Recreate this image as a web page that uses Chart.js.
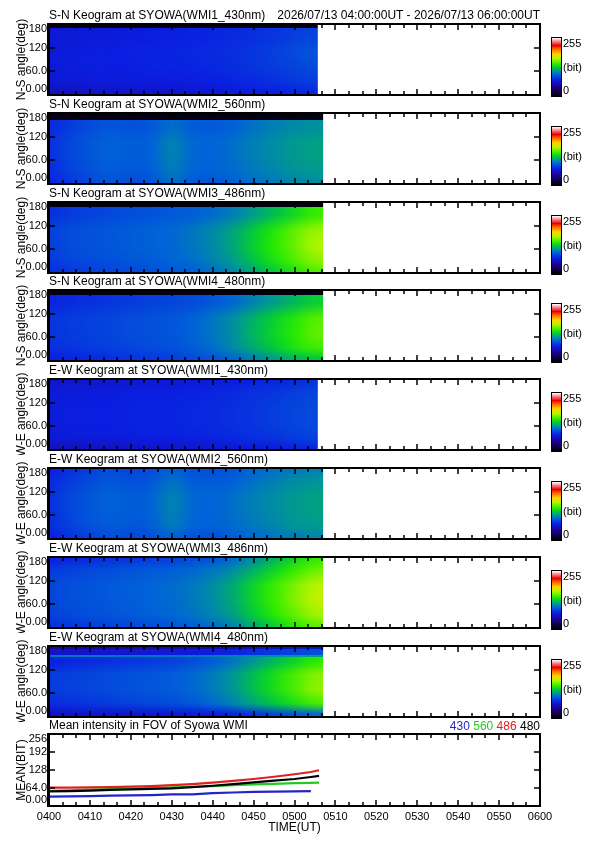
<!DOCTYPE html>
<html>
<head>
<meta charset="utf-8">
<script src="https://cdn.jsdelivr.net/npm/chart.js@4.4.0/dist/chart.umd.min.js"></script>
<style>
body{margin:0;background:#fff;width:595px;height:842px;position:relative;overflow:hidden;font-family:"Liberation Sans",Arial,sans-serif;color:#000;}
canvas{position:absolute;left:0;}
.ttl{position:absolute;left:49px;font-size:12px;line-height:14px;white-space:nowrap;}
.rt{left:auto;right:55px;}
</style>
</head>
<body>
<script>
// minutes after 04:00 UT
var keoTimes = [0,5,10,15,20,25,30,35,40,45,50,55,60,65];
var keoEnd = [65.7,67,67,67,65.7,67,67,67];
var keoYTicks = [0,60,120,180];

var titles = [
  'S-N Keogram at SYOWA(WMI1_430nm)','S-N Keogram at SYOWA(WMI2_560nm)',
  'S-N Keogram at SYOWA(WMI3_486nm)','S-N Keogram at SYOWA(WMI4_480nm)',
  'E-W Keogram at SYOWA(WMI1_430nm)','E-W Keogram at SYOWA(WMI2_560nm)',
  'E-W Keogram at SYOWA(WMI3_486nm)','E-W Keogram at SYOWA(WMI4_480nm)'
];
var axisNames = ['N-S angle(deg)','N-S angle(deg)','N-S angle(deg)','N-S angle(deg)',
  'W-E angle(deg)','W-E angle(deg)','W-E angle(deg)','W-E angle(deg)'];

// angle band edges (top -> bottom) and intensity (bit) per band per time column
var sn430Edges = [180,170,130,90,50,15,0];
var sn430 = [
  [8,8,8,8,8,8,8,8,8,8,8,8,8,8],
  [64,65,66,67,68,69,70,71,72,74,76,78,81,84],
  [67,68,69,70,71,72,72,73,74,76,79,82,86,89],
  [67,68,69,70,70,71,71,72,73,75,77,80,83,86],
  [64,65,66,67,67,68,68,69,70,72,74,76,79,81],
  [58,59,60,61,61,62,62,63,64,66,68,70,72,74]
];
var sn560Edges = [180,163,130,90,50,15,0];
var sn560 = [
  [5,5,5,5,5,5,5,5,5,5,5,5,5,5],
  [74,80,86,90,88,90,98,92,91,94,99,103,106,108],
  [76,84,90,94,92,94,104,96,95,98,103,107,111,113],
  [76,84,90,94,92,94,104,96,95,98,103,107,111,113],
  [75,82,88,92,90,92,102,95,94,97,101,105,109,111],
  [72,79,85,89,87,89,98,91,90,94,98,102,105,107]
];
var sn486Edges = [180,168,130,90,50,15,0];
var sn486 = [
  [5,5,5,5,5,5,5,5,5,5,5,5,5,5],
  [76,80,83,85,87,89,91,93,97,103,112,122,132,142],
  [82,86,88,90,92,94,96,100,106,114,126,138,150,160],
  [82,86,88,90,92,94,96,100,106,115,128,140,152,164],
  [80,84,86,88,90,92,95,98,104,112,124,136,147,158],
  [76,80,82,84,86,88,91,94,99,106,116,127,138,148]
];
var sn480Edges = [180,168,130,90,50,15,0];
var sn480 = [
  [5,5,5,5,5,5,5,5,5,5,5,5,5,5],
  [72,74,76,78,80,82,84,86,90,96,104,112,120,128],
  [78,80,82,84,86,88,90,94,100,108,118,128,138,148],
  [78,80,82,84,86,88,90,94,100,108,120,130,140,150],
  [76,78,80,82,84,86,88,92,98,106,116,126,136,144],
  [70,72,74,76,78,80,82,86,90,96,104,112,120,126]
];
var ew430Edges = [180,165,130,90,50,15,0];
var ew430 = [
  [62,63,64,64,65,66,66,67,68,69,71,73,75,77],
  [66,67,68,68,69,70,70,71,72,74,76,78,81,83],
  [68,69,70,70,71,72,72,73,74,76,78,81,84,86],
  [68,69,70,70,71,72,72,73,74,76,78,81,84,86],
  [66,67,68,68,69,70,70,71,72,74,76,78,81,83],
  [58,59,60,60,61,62,62,63,64,66,68,70,72,74]
];
var ew560Edges = [180,165,130,90,50,15,0];
var ew560 = [
  [70,76,82,86,84,86,94,88,87,90,95,99,102,104],
  [74,80,86,90,88,90,99,92,91,94,99,103,107,109],
  [76,84,90,94,92,94,104,96,95,98,103,107,111,113],
  [76,84,90,94,92,94,104,96,95,98,103,107,111,113],
  [75,82,88,92,90,92,102,95,94,97,101,105,109,111],
  [70,77,83,87,85,87,95,89,88,92,96,100,103,105]
];
var ew486Edges = [180,165,130,90,50,15,0];
var ew486 = [
  [70,73,75,77,79,81,83,86,90,97,108,120,132,142],
  [80,83,85,87,89,91,93,96,100,107,118,130,142,152],
  [84,87,89,91,93,95,97,101,107,116,130,143,155,166],
  [84,87,89,91,93,95,97,101,107,116,130,143,156,168],
  [82,85,87,89,91,93,96,99,105,113,126,139,150,161],
  [76,79,81,83,85,87,90,93,98,105,116,128,140,150]
];
var ew480Edges = [180,172,157,153,130,90,50,15,0];
var ew480 = [
  [45,45,46,46,47,47,48,48,50,52,54,56,58,60],
  [60,62,62,64,64,66,66,68,70,72,76,80,84,88],
  [100,100,100,100,100,100,100,100,102,104,106,108,110,112],
  [70,72,74,76,78,80,82,86,92,100,110,120,130,140],
  [80,82,84,86,88,90,92,96,102,110,122,134,146,156],
  [80,82,84,86,88,90,92,96,102,110,122,134,146,158],
  [74,76,78,80,82,84,86,90,96,104,114,124,134,144],
  [58,60,60,62,62,64,64,66,68,72,78,84,90,96]
];
// band boundaries (index below row i) that stay sharp
var keoSharp = [[0],[0],[0],[0],[],[],[],[0,1,2]];

var keoEdges = [sn430Edges,sn560Edges,sn486Edges,sn480Edges,ew430Edges,ew560Edges,ew486Edges,ew480Edges];
var keoRows = [sn430,sn560,sn486,sn480,ew430,ew560,ew486,ew480];

// mean intensity in FOV
var meanTimes = [0,5,10,15,20,25,30,35,40,45,50,55,60,64,66];
var mean430 = [33,34,35,37,38,39,41,41,46,48,50,51,52,53,null];
var mean560 = [54,56,58,60,62,64,66,68,71,74,77,79,81,82,83];
var mean486 = [65,65,66,67,69,71,74,78,83,89,96,104,113,121,127];
var mean480 = [52,53,55,57,59,61,63,67,72,78,84,90,96,103,107];
var meanYTicks = [0,64,128,192,256];

// colour table (rainbow + white)
var cmStops = [0,40,70,95,110,125,140,165,185,205,222,240,255];
var cmColors = [[0,0,0],[30,0,140],[10,30,225],[0,100,215],[0,150,150],[0,200,60],[40,235,0],[180,245,0],[255,210,0],[255,110,0],[235,0,0],[245,130,140],[255,255,255]];
function cmap(v){
  v = Math.max(0, Math.min(255, v));
  for (var i = 1; i < cmStops.length; i++) {
    if (v <= cmStops[i]) {
      var f = (v - cmStops[i-1]) / (cmStops[i] - cmStops[i-1]);
      var a = cmColors[i-1], b = cmColors[i];
      return [Math.round(a[0]+(b[0]-a[0])*f), Math.round(a[1]+(b[1]-a[1])*f), Math.round(a[2]+(b[2]-a[2])*f)];
    }
  }
  return cmColors[cmColors.length-1];
}

function fmtTick(v){
  if (v === 0) return '0.00';
  if (v < 100) return v.toFixed(1);
  return String(v);
}
function timeLabel(v){
  var h = 4 + Math.floor(v/60), m = v % 60;
  return '0' + h + (m < 10 ? '0' : '') + m;
}

// small image, one pixel row per band, edge columns repeated
function bandImage(rowList){
  var n = rowList[0].length, h = rowList.length, c = document.createElement('canvas');
  c.width = n + 2; c.height = h;
  var g = c.getContext('2d'), img = g.createImageData(n + 2, h);
  for (var y = 0; y < h; y++) {
    for (var i = 0; i < n + 2; i++) {
      var col = cmap(rowList[y][Math.min(Math.max(i - 1, 0), n - 1)]);
      var k = (y * (n + 2) + i) * 4;
      img.data[k] = col[0]; img.data[k+1] = col[1]; img.data[k+2] = col[2]; img.data[k+3] = 255;
    }
  }
  g.putImageData(img, 0, 0);
  return c;
}

var keoPlugin = {
  id: 'keo',
  beforeDatasetsDraw: function(chart, args, opts){
    if (opts.panel === undefined) return;
    var p = opts.panel, rows = keoRows[p], edges = keoEdges[p], sharp = keoSharp[p];
    var ctx = chart.ctx, xs = chart.scales.x, ys = chart.scales.y, a = chart.chartArea;
    var n = keoTimes.length, step = keoTimes[1] - keoTimes[0];
    var x0 = xs.getPixelForValue(keoTimes[0] - step/2);
    var x1 = xs.getPixelForValue(keoTimes[n-1] + step/2);
    var xa = xs.getPixelForValue(0), xe = xs.getPixelForValue(keoEnd[p]);
    var yE = edges.map(function(e){ return Math.round(ys.getPixelForValue(e)); });
    var yC = rows.map(function(r, i){ return Math.round((yE[i] + yE[i+1]) / 2); });
    var last = rows.length - 1;
    ctx.save();
    ctx.imageSmoothingEnabled = true;
    ctx.imageSmoothingQuality = 'high';
    function clipDraw(img, ytop, ybot, dy, dh){
      if (ybot <= ytop) return;
      ctx.save();
      ctx.beginPath(); ctx.rect(xa, ytop, xe - xa, ybot - ytop); ctx.clip();
      ctx.drawImage(img, 1, 0, n, img.height, x0, dy, x1 - x0, dh);
      ctx.restore();
    }
    rows.forEach(function(row, i){
      var flat = bandImage([row, row]);
      if (i === 0 || sharp.indexOf(i - 1) >= 0) clipDraw(flat, yE[i], yC[i], yE[i] - 2, yE[i+1] - yE[i] + 4);
      if (i === last || sharp.indexOf(i) >= 0) clipDraw(flat, yC[i], yE[i+1], yE[i] - 2, yE[i+1] - yE[i] + 4);
      if (i < last && sharp.indexOf(i) < 0) {
        var d = yC[i+1] - yC[i];
        clipDraw(bandImage([row, rows[i+1]]), yC[i], yC[i+1], yC[i] - d/2, 2*d);
      }
    });
    ctx.restore();
  }
};

var framePlugin = {
  id: 'frame',
  afterDraw: function(chart, args, o){
    var ctx = chart.ctx, a = chart.chartArea, xs = chart.scales.x, ys = chart.scales.y;
    var yt = o.mean ? meanYTicks : keoYTicks;
    ctx.save();
    ctx.strokeStyle = '#000'; ctx.lineWidth = 1.5;
    ctx.beginPath();
    for (var k = 0; k <= 36; k++) {
      var px = Math.round(xs.getPixelForValue(k*10/3));
      var len = (k % 3 === 0) ? 6 : 4;
      ctx.moveTo(px, a.top); ctx.lineTo(px, a.top + len);
      ctx.moveTo(px, a.bottom); ctx.lineTo(px, a.bottom - len);
    }
    yt.forEach(function(v){
      var py = Math.round(ys.getPixelForValue(v));
      ctx.moveTo(a.left, py); ctx.lineTo(a.left + 6, py);
      ctx.moveTo(a.right, py); ctx.lineTo(a.right - 6, py);
    });
    ctx.stroke();
    ctx.lineWidth = 2;
    ctx.strokeRect(a.left, a.top, a.right - a.left, a.bottom - a.top);
    ctx.lineWidth = 3;
    ctx.beginPath(); ctx.moveTo(a.left - 0.5, a.top - 1); ctx.lineTo(a.left - 0.5, a.bottom + 1); ctx.stroke();
    ctx.fillStyle = '#000';
    ctx.font = '11px "Liberation Sans", Arial, sans-serif';
    ctx.textAlign = 'right'; ctx.textBaseline = 'middle';
    yt.forEach(function(v){
      var py = Math.min(Math.max(ys.getPixelForValue(v), a.top + 5), a.bottom - 6);
      ctx.fillText(fmtTick(v), a.left - 2, py);
    });
    if (!o.mean) {
      var bx = a.right + 12, by = a.top + 14, bw = 9, bh = 58;
      for (var j = 0; j < bh; j++) {
        var c = cmap(255 * (1 - (j + 0.5) / bh));
        ctx.fillStyle = 'rgb(' + c[0] + ',' + c[1] + ',' + c[2] + ')';
        ctx.fillRect(bx, by + j, bw, 1);
      }
      ctx.lineWidth = 1; ctx.strokeStyle = '#000';
      ctx.strokeRect(bx - 0.5, by - 0.5, bw + 1, bh + 1);
      ctx.fillStyle = '#000'; ctx.textAlign = 'left';
      ctx.fillText('255', bx + bw + 2, by + 6);
      ctx.fillText('(bit)', bx + bw + 2, by + 30);
      ctx.fillText('0', bx + bw + 2, by + 53);
    }
    ctx.restore();
  }
};

Chart.defaults.font.family = '"Liberation Sans", Arial, sans-serif';
Chart.defaults.color = '#000';

function addDiv(cls, top, html){
  var d = document.createElement('div');
  d.className = cls; d.style.top = top + 'px'; d.innerHTML = html;
  document.body.appendChild(d);
}

titles.forEach(function(title, i){
  var top = Math.round(88.8 * i);
  var cv = document.createElement('canvas');
  cv.width = 595; cv.height = 100; cv.style.top = top + 'px';
  document.body.appendChild(cv);
  addDiv('ttl', top + 8, title);
  new Chart(cv, {
    type: 'scatter',
    data: { datasets: [] },
    options: {
      responsive: false, animation: false, events: [],
      layout: { padding: { left: 0, right: 55, top: 24, bottom: 5 } },
      plugins: { legend: { display: false }, tooltip: { enabled: false }, keo: { panel: i }, frame: { mean: false } },
      scales: {
        x: { type: 'linear', min: 0, max: 120, display: false },
        y: {
          type: 'linear', min: 0, max: 180,
          afterFit: function(s){ s.width = 49; },
          grid: { display: false, drawTicks: false }, border: { display: false },
          ticks: { display: false, stepSize: 60 },
          title: { display: true, text: axisNames[i], color: '#000', font: { size: 12 }, padding: { top: 14, bottom: 0 } }
        }
      }
    },
    plugins: [keoPlugin, framePlugin]
  });
});
addDiv('ttl rt', 8, '2026/07/13 04:00:00UT - 2026/07/13 06:00:00UT');

// mean intensity panel
var mtop = 710;
addDiv('ttl', mtop + 8, 'Mean intensity in FOV of Syowa WMI');
addDiv('ttl rt', mtop + 9, '<span style="color:#2424c8">430</span> <span style="color:#22cc22">560</span> <span style="color:#dd2222">486</span> <span style="color:#000">480</span>');
var mcv = document.createElement('canvas');
mcv.width = 595; mcv.height = 132; mcv.style.top = mtop + 'px';
document.body.appendChild(mcv);

function pts(vals){
  return meanTimes.map(function(t, i){ return { x: t, y: vals[i] }; });
}

new Chart(mcv, {
  type: 'line',
  data: {
    datasets: [
      { label: '480', data: pts(mean480), borderColor: '#000000' },
      { label: '486', data: pts(mean486), borderColor: '#dd2222' },
      { label: '560', data: pts(mean560), borderColor: '#22cc22' },
      { label: '430', data: pts(mean430), borderColor: '#2424c8' }
    ]
  },
  options: {
    responsive: false, animation: false, events: [],
    layout: { padding: { left: 0, right: 55, top: 24, bottom: 4 } },
    elements: { point: { radius: 0 }, line: { borderWidth: 2.2, tension: 0, fill: false } },
    plugins: { legend: { display: false }, tooltip: { enabled: false }, frame: { mean: true } },
    scales: {
      x: {
        type: 'linear', min: 0, max: 120,
        afterFit: function(s){ s.height = 32; },
        grid: { display: false, drawTicks: false }, border: { display: false },
        ticks: { stepSize: 10, autoSkip: false, maxRotation: 0, padding: 4, color: '#000', font: { size: 11 }, callback: timeLabel },
        title: { display: true, text: 'TIME(UT)', color: '#000', font: { size: 12 }, padding: { top: 0, bottom: 3 } }
      },
      y: {
        type: 'linear', min: 0, max: 256,
        afterFit: function(s){ s.width = 49; },
        grid: { display: false, drawTicks: false }, border: { display: false },
        ticks: { display: false, stepSize: 64 },
        title: { display: true, text: 'MEAN(BIT)', color: '#000', font: { size: 12 }, padding: { top: 14, bottom: 0 } }
      }
    }
  },
  plugins: [framePlugin]
});
</script>
</body>
</html>
